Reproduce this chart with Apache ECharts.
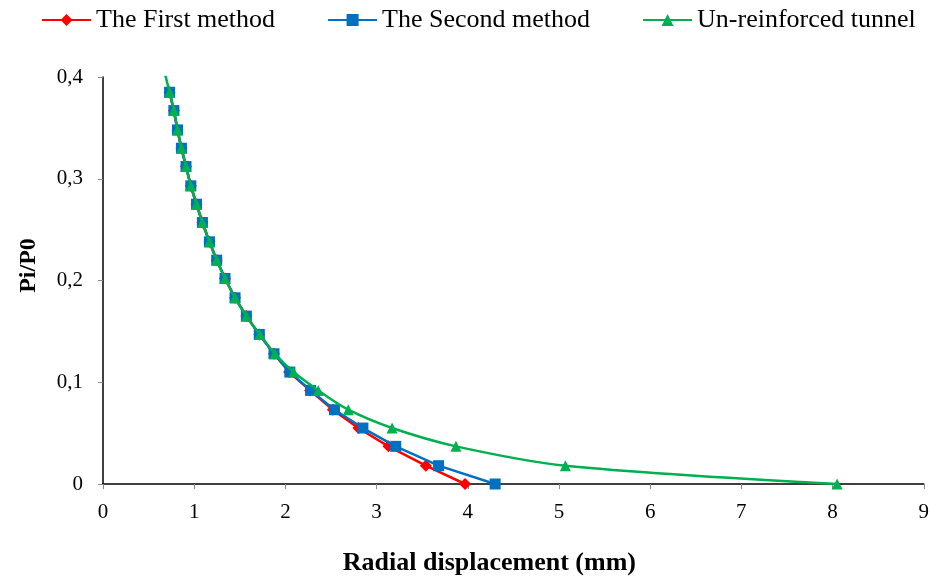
<!DOCTYPE html>
<html>
<head>
<meta charset="utf-8">
<script src="https://cdn.jsdelivr.net/npm/echarts@6/dist/echarts.min.js"></script>
<style>html,body{margin:0;padding:0;background:#fff;}#c{width:932px;height:581px;}</style>
</head>
<body>
<div id="c"></div>
<script>
// Pi/P0 levels (shared by first and second methods)
var pRatio = [0.385,0.367,0.348,0.330,0.312,0.293,0.275,0.257,0.238,0.220,0.202,0.183,0.165,0.147,0.128,0.110,0.092,0.073,0.055,0.037,0.018,0];
// Radial displacement (mm)
var firstX  = [0.73,0.777,0.817,0.86,0.91,0.963,1.025,1.09,1.167,1.247,1.338,1.448,1.572,1.714,1.875,2.04,2.27,2.52,2.80,3.13,3.54,3.97];
var secondX = [0.73,0.777,0.817,0.86,0.91,0.963,1.025,1.09,1.167,1.247,1.338,1.448,1.572,1.714,1.875,2.049,2.276,2.538,2.85,3.21,3.68,4.30];
var greenP  = [0.403,0.385,0.367,0.348,0.330,0.312,0.293,0.275,0.257,0.238,0.220,0.202,0.183,0.165,0.147,0.128,0.110,0.092,0.073,0.055,0.037,0.018,0];
var greenX  = [0.68,0.73,0.777,0.817,0.86,0.91,0.963,1.025,1.09,1.167,1.247,1.338,1.448,1.572,1.72,1.885,2.09,2.36,2.69,3.17,3.87,5.07,8.05];
var seriesNames = ['The First method','The Second method','Un-reinforced tunnel'];
var xTicks = [0,1,2,3,4,5,6,7,8,9];
var yTicks = [0,0.1,0.2,0.3,0.4];

function pairs(xs, ys){ return xs.map(function(x,i){ return [x, ys[i]]; }); }

var FONT = '"Liberation Serif","Times New Roman",serif';
var chart = echarts.init(document.getElementById('c'), null, {renderer:'canvas'});
chart.setOption({
  animation:false,
  backgroundColor:'#fff',
  textStyle:{fontFamily:FONT},
  legend:{
    left:36, top:2, itemWidth:49, itemHeight:15, itemGap:52,
    textStyle:{fontFamily:FONT, fontSize:26, color:'#000'},
    data:seriesNames
  },
  grid:{left:103, right:7, top:77, bottom:89, containLabel:false},
  xAxis:{
    type:'value', min:xTicks[0], max:xTicks[xTicks.length-1], interval:1,
    name:'Radial displacement (mm)', nameLocation:'middle', nameGap:66,
    nameTextStyle:{fontFamily:FONT, fontSize:26, fontWeight:'bold', color:'#000', padding:[0,48,0,0]},
    axisLine:{lineStyle:{color:'#000', width:1.5}},
    axisTick:{show:true, length:5, lineStyle:{color:'#888'}},
    axisLabel:{fontFamily:FONT, fontSize:21, color:'#000', margin:18},
    splitLine:{show:false}
  },
  yAxis:{
    type:'value', min:yTicks[0], max:yTicks[yTicks.length-1], interval:0.1,
    name:'Pi/P0', nameLocation:'middle', nameGap:62,
    nameTextStyle:{fontFamily:FONT, fontSize:24, fontWeight:'bold', color:'#000', padding:[0,0,0,30]},
    axisLine:{show:true, lineStyle:{color:'#000', width:1.5}},
    axisTick:{show:true, length:5, lineStyle:{color:'#888'}},
    axisLabel:{fontFamily:FONT, fontSize:21, color:'#000', margin:20,
      formatter:function(v){ return v===0 ? '0' : v.toFixed(1).replace('.', ','); }},
    splitLine:{show:false}
  },
  series:[
    {name:seriesNames[0], type:'line', data:pairs(firstX,pRatio), symbol:'diamond', symbolSize:12,
     itemStyle:{color:'#ff0000'}, lineStyle:{color:'#ff0000', width:2.5}, clip:true, z:2},
    {name:seriesNames[1], type:'line', data:pairs(secondX,pRatio), symbol:'rect', symbolSize:11,
     itemStyle:{color:'#0070c0'}, lineStyle:{color:'#0070c0', width:2.5}, clip:true, z:3},
    {name:seriesNames[2], type:'line', data:pairs(greenX,greenP), symbol:'triangle', symbolSize:11,
     smooth:0.3, itemStyle:{color:'#00b050'}, lineStyle:{color:'#00b050', width:2.5}, clip:true, z:4}
  ]
});
</script>
</body>
</html>
